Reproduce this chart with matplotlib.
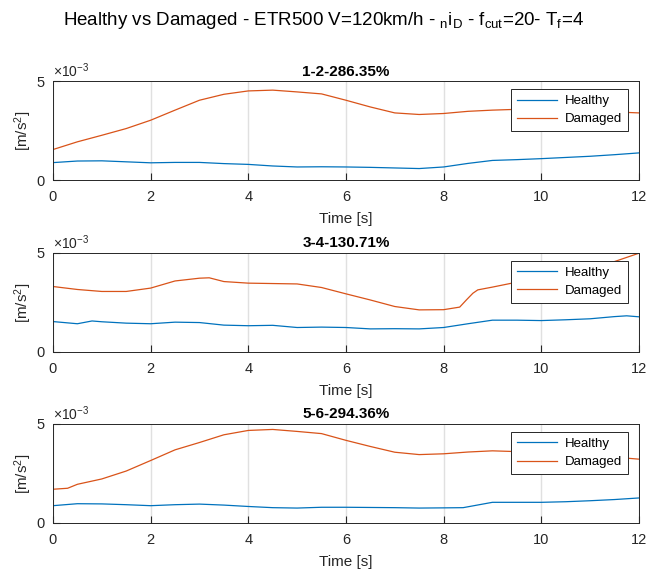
import matplotlib.pyplot as plt

plt.rcParams['font.family'] = ['Liberation Sans', 'DejaVu Sans']
plt.rcParams['mathtext.fontset'] = 'custom'
plt.rcParams['mathtext.rm'] = 'Liberation Sans'
plt.rcParams['mathtext.it'] = 'Liberation Sans'
plt.rcParams['mathtext.bf'] = 'Liberation Sans:bold'

# values in units of 1e-3 m/s^2
t1_h = [0, 0.5, 1, 1.5, 2, 2.5, 3, 3.5, 4, 4.5, 5, 5.5, 6, 6.5, 7, 7.5, 8, 8.5, 9, 9.5, 10, 10.5, 11, 11.5, 12]
p1_healthy = [0.89, 0.97, 0.98, 0.93, 0.88, 0.90, 0.90, 0.84, 0.80, 0.72, 0.67, 0.68, 0.67, 0.65, 0.62, 0.59,
              0.67, 0.85, 1.00, 1.04, 1.09, 1.15, 1.21, 1.29, 1.38]
t1_d = [0, 0.5, 1, 1.5, 2, 2.5, 3, 3.5, 4, 4.5, 5, 5.5, 6, 6.5, 7, 7.5, 8, 8.5, 9, 9.5, 10, 10.5, 11, 11.5, 12]
p1_damaged = [1.55, 1.94, 2.27, 2.61, 3.03, 3.54, 4.04, 4.34, 4.51, 4.55, 4.46, 4.36, 4.04, 3.70, 3.40, 3.32,
              3.37, 3.48, 3.54, 3.58, 3.60, 3.60, 3.55, 3.45, 3.40]

t2_h = [0, 0.5, 0.8, 1, 1.5, 2, 2.5, 3, 3.5, 4, 4.5, 5, 5.5, 6, 6.5, 7, 7.5, 8, 8.5, 9, 9.5, 10, 10.5, 11,
        11.5, 11.75, 12]
p2_healthy = [1.53, 1.42, 1.56, 1.52, 1.45, 1.42, 1.50, 1.48, 1.35, 1.32, 1.34, 1.23, 1.25, 1.23, 1.16, 1.17,
              1.16, 1.23, 1.42, 1.60, 1.60, 1.58, 1.62, 1.67, 1.78, 1.82, 1.77]
t2_d = [0, 0.5, 1, 1.5, 2, 2.5, 3, 3.2, 3.5, 4, 4.5, 5, 5.5, 6, 6.5, 7, 7.5, 8, 8.33, 8.47, 8.6, 8.7, 9, 9.4,
        10, 10.5, 11, 11.5, 12]
p2_damaged = [3.30, 3.15, 3.05, 3.05, 3.22, 3.58, 3.72, 3.74, 3.55, 3.47, 3.45, 3.43, 3.25, 2.93, 2.62, 2.29,
              2.12, 2.13, 2.26, 2.63, 2.96, 3.13, 3.27, 3.47, 3.65, 3.80, 4.00, 4.56, 4.98]

t3_h = [0, 0.5, 1, 1.5, 2, 2.5, 3, 3.5, 4, 4.5, 5, 5.5, 6, 6.5, 7, 7.5, 8, 8.4, 9, 9.5, 10, 10.5, 11, 11.5, 12]
p3_healthy = [0.87, 0.97, 0.96, 0.92, 0.87, 0.92, 0.95, 0.90, 0.83, 0.77, 0.75, 0.79, 0.79, 0.78, 0.77, 0.75,
              0.76, 0.77, 1.04, 1.04, 1.04, 1.07, 1.12, 1.18, 1.26]
t3_d = [0, 0.3, 0.5, 1, 1.5, 2, 2.5, 3, 3.5, 4, 4.5, 5, 5.5, 6, 6.5, 7, 7.5, 8, 8.5, 9, 9.5, 10, 10.5, 11,
        11.5, 12]
p3_damaged = [1.70, 1.75, 1.95, 2.22, 2.62, 3.15, 3.69, 4.06, 4.45, 4.67, 4.72, 4.62, 4.51, 4.17, 3.86, 3.57,
              3.45, 3.49, 3.58, 3.64, 3.60, 3.55, 3.48, 3.40, 3.32, 3.22]

titles = ["1-2-286.35%", "3-4-130.71%", "5-6-294.36%"]
panels = [(t1_h, p1_healthy, t1_d, p1_damaged),
          (t2_h, p2_healthy, t2_d, p2_damaged),
          (t3_h, p3_healthy, t3_d, p3_damaged)]

BLUE = (0, 0.447, 0.741)
ORANGE = (0.85, 0.325, 0.098)
DARK = (0.15, 0.15, 0.15)

fig = plt.figure(figsize=(6.46, 5.74), dpi=100)
bottoms = [0.686, 0.387, 0.089]

for bot, title, (th, h, td, d) in zip(bottoms, titles, panels):
    ax = fig.add_axes([0.082, bot, 0.907, 0.1725])
    ax.plot(th, h, color=BLUE, lw=0.9, label="Healthy")
    ax.plot(td, d, color=ORANGE, lw=0.9, label="Damaged")
    ax.set_xlim(0, 12)
    ax.set_ylim(0, 5)
    ax.set_xticks(range(0, 13, 2))
    ax.set_yticks([0, 5])
    ax.grid(axis='x', color=(0.88, 0.88, 0.88), lw=1)
    ax.set_axisbelow(True)
    ax.tick_params(direction='in', length=5, colors=DARK, labelsize=10.5)
    ax.tick_params(axis='x', pad=7)
    ax.tick_params(axis='y', pad=6)
    for s in ax.spines.values():
        s.set_color(DARK)
        s.set_linewidth(0.7)
    ax.set_title(title, fontsize=11, fontweight='bold', pad=4)
    ax.set_xlabel("Time [s]", fontsize=11, color=DARK, labelpad=6)
    ax.set_ylabel("[m/s$^{2}$]", fontsize=11, color=DARK, labelpad=2)
    ax.text(0.0, 1.01, r"$\times$10$^{-3}$", transform=ax.transAxes, fontsize=10,
            color=DARK, ha='left', va='bottom')
    leg = ax.legend(loc='upper right', bbox_to_anchor=(0.981, 0.92), borderaxespad=0,
                    fancybox=False, framealpha=1, edgecolor=DARK, fontsize=9.5,
                    handlelength=3.0, handletextpad=0.6, borderpad=0.45, labelspacing=0.45)
    leg.get_frame().set_linewidth(0.7)

fig.suptitle(r"Healthy vs Damaged - ETR500 V=120km/h - $_{\mathregular{n}}$i$_{\mathregular{D}}$"
             r" - f$_{\mathregular{cut}}$=20- T$_{\mathregular{f}}$=4",
             x=0.5, y=0.982, fontsize=13.5)

fig.savefig("out.png", dpi=100)
